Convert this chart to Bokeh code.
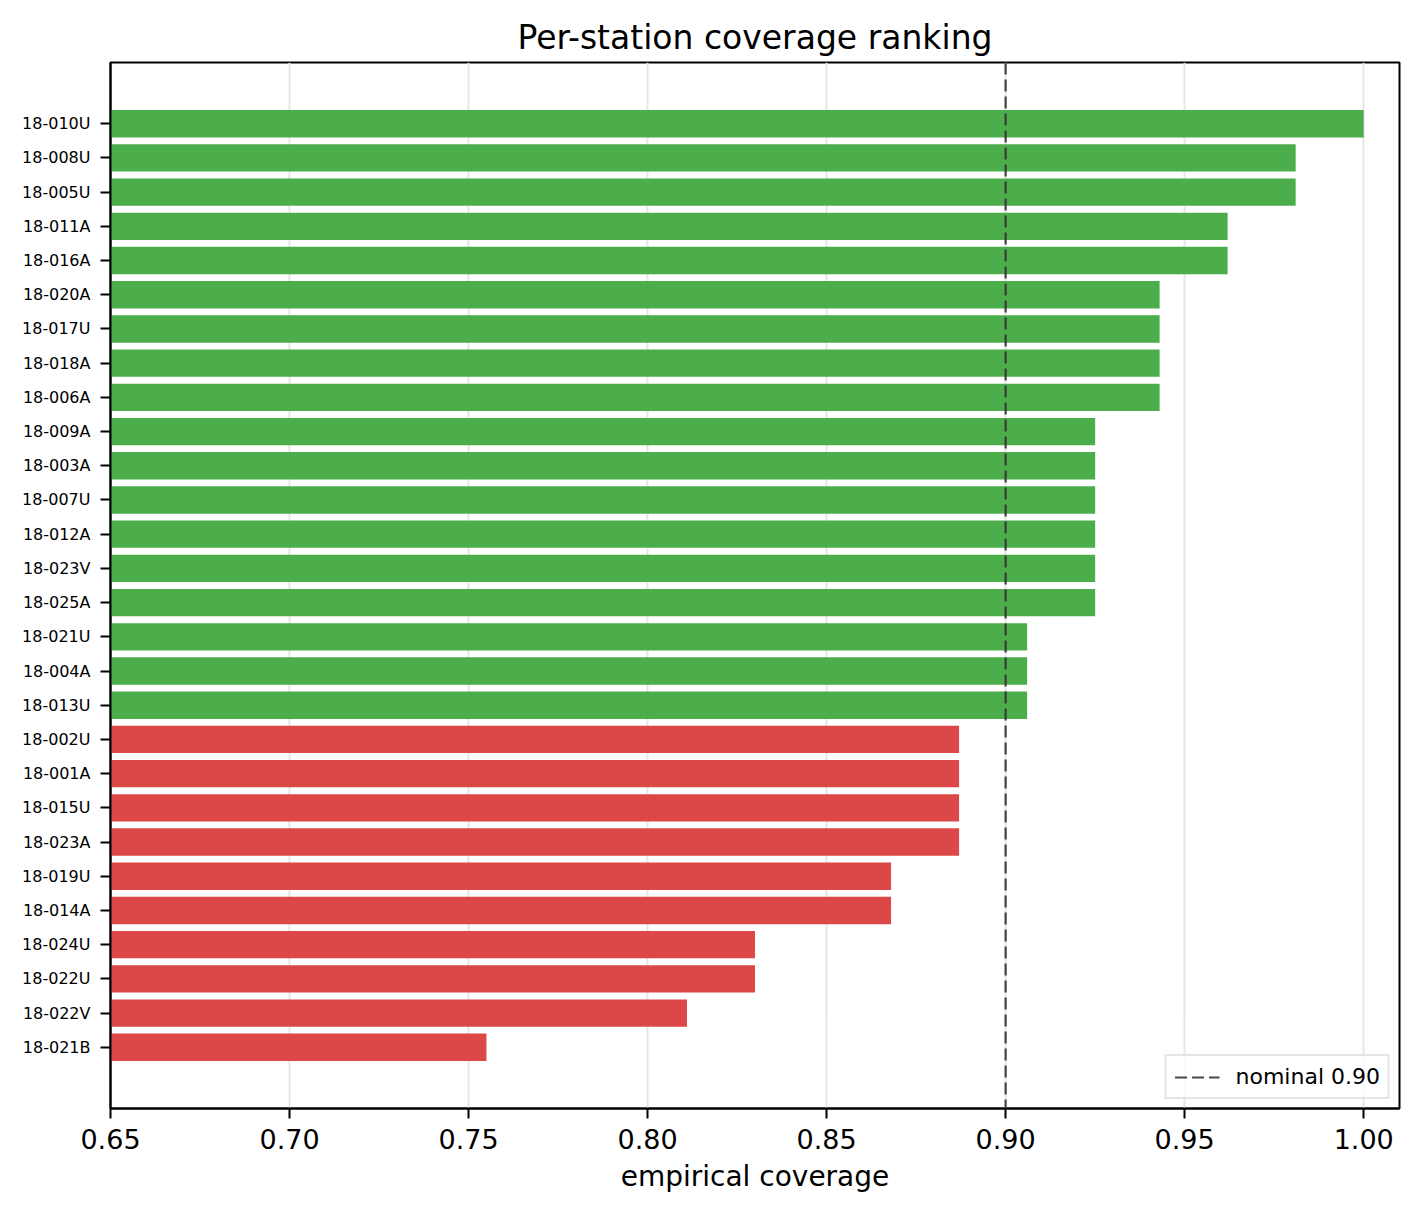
from bokeh.plotting import figure
from bokeh.models import FactorRange, Span, FixedTicker, Legend, LegendItem
from bokeh.embed import file_html
from bokeh.resources import INLINE

# stations from top to bottom (ranked)
stations = ["18-010U", "18-008U", "18-005U", "18-011A", "18-016A", "18-020A", "18-017U",
            "18-018A", "18-006A", "18-009A", "18-003A", "18-007U", "18-012A", "18-023V",
            "18-025A", "18-021U", "18-004A", "18-013U", "18-002U", "18-001A", "18-015U",
            "18-023A", "18-019U", "18-014A", "18-024U", "18-022U", "18-022V", "18-021B"]
coverage = [1.000, 0.981, 0.981, 0.962, 0.962, 0.943, 0.943,
            0.943, 0.943, 0.925, 0.925, 0.925, 0.925, 0.925,
            0.925, 0.906, 0.906, 0.906, 0.887, 0.887, 0.887,
            0.887, 0.868, 0.868, 0.830, 0.830, 0.811, 0.755]
nominal = 0.90
x_ticks = [0.65, 0.70, 0.75, 0.80, 0.85, 0.90, 0.95, 1.00]

GREEN = "#4bae4b"
RED = "#dc4747"
colors = [GREEN if c >= nominal else RED for c in coverage]

factors = list(reversed(stations))  # bottom-to-top for bokeh

FONT = "DejaVu Sans"

p = figure(width=1411, height=1209, output_backend="svg", toolbar_location=None,
           y_range=FactorRange(factors=factors, range_padding=2.58 / 28, range_padding_units="percent"),
           x_range=(0.65, 1.01),
           min_border_left=110, min_border_right=12, min_border_top=62, min_border_bottom=101,
           title="Per-station coverage ranking")

p.hbar(y=stations, right=coverage, left=0.65, height=0.8, fill_color=colors, line_color=None)

span = Span(location=nominal, dimension="height", line_color="#333333", line_dash="12 5",
            line_width=2.2, line_alpha=0.9)
p.add_layout(span)

leg_r = p.line(x=[nominal], y=[stations[0]], line_color="#333333", line_dash="12 5",
               line_width=2.2, line_alpha=0.9)
legend = Legend(items=[LegendItem(label="nominal 0.90", renderers=[leg_r])],
                location="bottom_right")
legend.label_text_font = FONT
legend.label_text_font_size = "22px"
legend.label_text_color = "black"
legend.border_line_color = "#cccccc"
legend.border_line_width = 2
legend.background_fill_alpha = 0.8
legend.glyph_width = 45
legend.glyph_height = 18
legend.label_standoff = 16
legend.label_height = 18
legend.padding = 8
legend.margin = 9
legend.spacing = 0
p.add_layout(legend)

p.title.align = "center"
p.title.text_font = FONT
p.title.text_font_size = "33px"
p.title.text_font_style = "normal"
p.title.text_color = "#000000"
p.title.offset = 0
p.title.standoff = 12

p.xaxis.ticker = FixedTicker(ticks=x_ticks)
p.xaxis.major_label_overrides = {t: f"{t:.2f}" for t in x_ticks}
p.xaxis.axis_label = "empirical coverage"
p.xaxis.axis_label_text_font = FONT
p.xaxis.axis_label_text_font_size = "28px"
p.xaxis.axis_label_text_font_style = "normal"
p.xaxis.axis_label_standoff = 8
p.xaxis.major_label_text_font = FONT
p.xaxis.major_label_text_font_size = "27px"
p.xaxis.major_label_standoff = 10
p.xaxis.minor_tick_line_color = None

p.yaxis.major_label_text_font = FONT
p.yaxis.major_label_text_font_size = "16px"
p.yaxis.major_label_standoff = 10

for ax in (p.xaxis, p.yaxis):
    ax.axis_line_color = "black"
    ax.axis_line_width = 2
    ax.major_tick_line_color = "black"
    ax.major_tick_line_width = 2
    ax.major_tick_out = 10
    ax.major_tick_in = 0
    ax.major_label_text_color = "black"
    ax.axis_label_text_color = "black"

p.outline_line_color = "black"
p.outline_line_width = 2
p.outline_line_alpha = 1

p.xgrid.grid_line_color = "#e6e6e6"
p.xgrid.grid_line_width = 2
p.ygrid.grid_line_color = None

open("out.html", "w").write(file_html(p, INLINE))
